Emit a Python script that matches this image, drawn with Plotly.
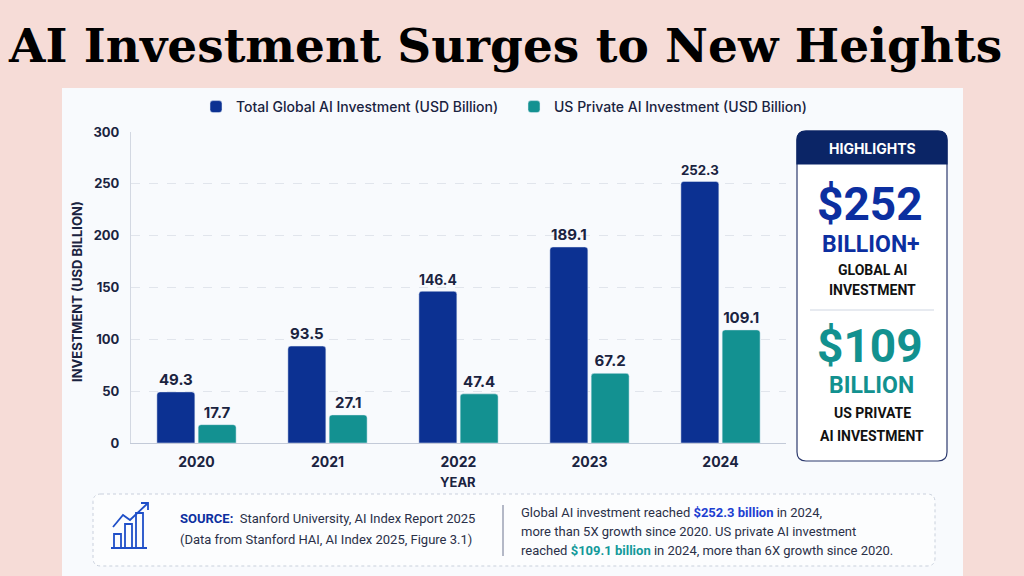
import plotly.graph_objects as go

# data
years = ["2020", "2021", "2022", "2023", "2024"]
global_investment = [49.3, 93.5, 146.4, 189.1, 252.3]
us_private_investment = [17.7, 27.1, 47.4, 67.2, 109.1]
y_ticks = [0, 50, 100, 150, 200, 250, 300]

W, H = 1024, 576
NAVY = "#1a2340"
BLUE = "#0c3192"
TEAL = "#139191"
SANS = "Inter"


def px(x):
    return x / W


def py(y):
    return 1 - y / H


def rounded_rect(x0, y0, x1, y1, r, top_only=False):
    """SVG path (paper coords) for a rounded rectangle given in pixels"""
    X0, X1 = px(x0), px(x1)
    Y0, Y1 = py(y0), py(y1)
    rx, ry = r / W, r / H
    if top_only:
        return (
            f"M{X0},{Y1} L{X0},{Y0 - ry} Q{X0},{Y0} {X0 + rx},{Y0} "
            f"L{X1 - rx},{Y0} Q{X1},{Y0} {X1},{Y0 - ry} L{X1},{Y1} Z"
        )
    return (
        f"M{X0 + rx},{Y0} L{X1 - rx},{Y0} Q{X1},{Y0} {X1},{Y0 - ry} "
        f"L{X1},{Y1 + ry} Q{X1},{Y1} {X1 - rx},{Y1} L{X0 + rx},{Y1} "
        f"Q{X0},{Y1} {X0},{Y1 + ry} L{X0},{Y0 - ry} Q{X0},{Y0} {X0 + rx},{Y0} Z"
    )


fig = go.Figure()
fig.add_trace(
    go.Bar(
        x=years,
        y=global_investment,
        name="Total Global AI Investment (USD Billion)",
        marker=dict(color=BLUE),
        text=[f"{v:.1f}" for v in global_investment],
        textposition="outside",
        textfont=dict(family=SANS, size=15, color=NAVY, weight="bold"),
        cliponaxis=False,
    )
)
fig.add_trace(
    go.Bar(
        x=years,
        y=us_private_investment,
        name="US Private AI Investment (USD Billion)",
        marker=dict(color=TEAL),
        text=[f"{v:.1f}" for v in us_private_investment],
        textposition="outside",
        textfont=dict(family=SANS, size=15, color=NAVY, weight="bold"),
        cliponaxis=False,
    )
)

shapes = [
    # white panel
    dict(type="rect", xref="paper", yref="paper", x0=px(62), x1=px(963),
         y0=py(576), y1=py(88), fillcolor="#f8fafd", line=dict(width=0), layer="below"),
    # highlights box
    dict(type="path", xref="paper", yref="paper",
         path=rounded_rect(797, 131, 947, 461, 9),
         fillcolor="#ffffff", line=dict(color="#2d3a6e", width=1.2)),
    dict(type="path", xref="paper", yref="paper",
         path=rounded_rect(797, 131, 947, 164, 9, top_only=True),
         fillcolor="#0b2566", line=dict(color="#0b2566", width=1.2)),
    dict(type="line", xref="paper", yref="paper", x0=px(810), x1=px(934),
         y0=py(310), y1=py(310), line=dict(color="#cfd6e2", width=1)),
    # source box
    dict(type="path", xref="paper", yref="paper",
         path=rounded_rect(93, 494, 935, 566, 8),
         fillcolor="rgba(255,255,255,0.6)", line=dict(color="#c9d0dc", width=1, dash="dot")),
    dict(type="line", xref="paper", yref="paper", x0=px(503), x1=px(503),
         y0=py(505), y1=py(556), line=dict(color="#6d7590", width=1)),
]

# small chart icon in the source box
icon = dict(color="#1f4fc8", width=1.8)
for bx0, bx1, top in [(114, 121, 534), (125, 132, 524), (136, 143, 513)]:
    shapes.append(dict(type="rect", xref="paper", yref="paper", x0=px(bx0), x1=px(bx1),
                       y0=py(548), y1=py(top), line=icon))
shapes += [
    dict(type="line", xref="paper", yref="paper", x0=px(111), x1=px(147),
         y0=py(548), y1=py(548), line=icon),
    dict(type="path", xref="paper", yref="paper", line=icon,
         path=f"M{px(113)},{py(527)} L{px(123)},{py(515)} L{px(130)},{py(520)} L{px(148)},{py(503)}"),
    dict(type="path", xref="paper", yref="paper", line=icon,
         path=f"M{px(141)},{py(503)} L{px(148)},{py(503)} L{px(148)},{py(510)}"),
]


def note(x, y, text, size, color=NAVY, family=SANS, bold=False, anchor="center", angle=0):
    return dict(
        x=px(x), y=py(y), xref="paper", yref="paper", text=text, showarrow=False,
        xanchor=anchor, yanchor="middle", textangle=angle,
        font=dict(family=family, size=size, color=color, weight="bold" if bold else "normal"),
    )


annotations = [
    note(505, 45, "AI Investment Surges to New Heights", 47, "#000000", "DejaVu Serif", True),
    note(77, 292, "INVESTMENT (USD BILLION)", 13, NAVY, SANS, True, angle=-90),
    note(458, 482, "YEAR", 13, NAVY, SANS, True),
    # highlights
    note(872, 148, "HIGHLIGHTS", 14, "#ffffff", SANS, True),
    note(870, 204, "$252", 46, "#0c2fa0", "Roboto", True),
    note(871, 244, "BILLION+", 23, "#0c2fa0", "Roboto", True),
    note(872, 270, "GLOBAL AI", 14, "#111111", "Roboto", True),
    note(872, 290, "INVESTMENT", 14, "#111111", "Roboto", True),
    note(870, 346, "$109", 46, "#12918f", "Roboto", True),
    note(871, 385, "BILLION", 23, "#12918f", "Roboto", True),
    note(872, 413, "US PRIVATE", 14, "#111111", "Roboto", True),
    note(872, 436, "AI INVESTMENT", 14, "#111111", "Roboto", True),
    # source
    note(178, 518, "<b><span style='color:#0c2fa0'>SOURCE:</span></b>  Stanford University, AI Index Report 2025",
         13, "#2a3048", "Roboto", anchor="left"),
    note(178, 539, "(Data from Stanford HAI, AI Index 2025, Figure 3.1)", 13, "#2a3048", "Roboto", anchor="left"),
    note(519, 512, "Global AI investment reached <b><span style='color:#1d3fd1'>$252.3 billion</span></b> in 2024,",
         13, "#2a3048", "Roboto", anchor="left"),
    note(519, 531, "more than 5X growth since 2020. US private AI investment", 13, "#2a3048", "Roboto", anchor="left"),
    note(519, 550, "reached <b><span style='color:#12999a'>$109.1 billion</span></b> in 2024, more than 6X growth since 2020.",
         13, "#2a3048", "Roboto", anchor="left"),
]

fig.update_layout(
    width=W,
    height=H,
    margin=dict(l=0, r=0, t=0, b=0, autoexpand=False),
    paper_bgcolor="#f6dcd7",
    plot_bgcolor="rgba(0,0,0,0)",
    barmode="group",
    bargap=0.37,
    bargroupgap=0.08,
    barcornerradius=3,
    showlegend=True,
    legend=dict(
        orientation="h", x=px(196), y=py(107), xanchor="left", yanchor="middle",
        font=dict(family=SANS, size=14, color=NAVY, weight=500), bgcolor="rgba(0,0,0,0)",
        itemwidth=30, entrywidth=273, entrywidthmode="pixels",
    ),
    xaxis=dict(
        domain=[px(131), px(786)],
        tickfont=dict(family=SANS, size=14, color=NAVY, weight="bold"),
        showline=True, linecolor="#c3cad8", linewidth=1,
        ticks="", ticklabelstandoff=6, automargin=False,
    ),
    yaxis=dict(
        domain=[py(443), py(132)],
        range=[0, 300],
        tickvals=y_ticks,
        tickfont=dict(family=SANS, size=13, color=NAVY, weight="bold"),
        showline=True, linecolor="#d3d8e2", linewidth=1,
        gridcolor="#e1e5ec", griddash="dash", zeroline=False,
        ticks="", ticklabelstandoff=8, automargin=False,
    ),
    shapes=shapes,
    annotations=annotations,
)

# drop the page's default body margin so the figure fills the window
fig.write_html(
    "out.html",
    config={"displayModeBar": False},
    post_script="document.body.style.margin='0';",
)
